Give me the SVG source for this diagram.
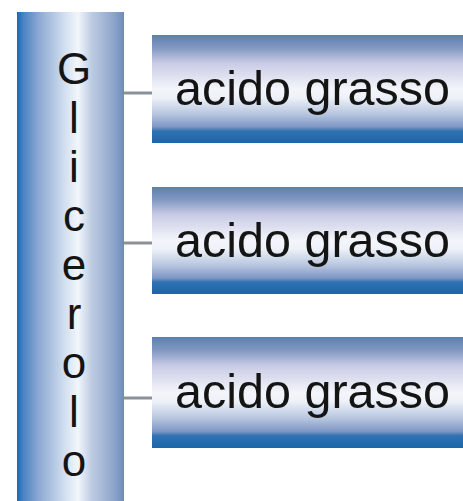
<svg xmlns="http://www.w3.org/2000/svg" width="463" height="501" viewBox="0 0 463 501">
  <defs>
    <!-- glycerol backbone: shaded horizontally like a cylinder -->
    <linearGradient id="colShade" x1="0" y1="0" x2="1" y2="0">
      <stop offset="0" stop-color="#1b69b3"/>
      <stop offset="0.06" stop-color="#4a83c2"/>
      <stop offset="0.2" stop-color="#8ba8d2"/>
      <stop offset="0.45" stop-color="#d3e0f0"/>
      <stop offset="0.57" stop-color="#f2f6fb"/>
      <stop offset="0.7" stop-color="#bccbe2"/>
      <stop offset="0.9" stop-color="#8ea6cb"/>
      <stop offset="1" stop-color="#6e8cba"/>
    </linearGradient>
    <!-- fatty-acid chains: shaded vertically -->
    <linearGradient id="barShade" x1="0" y1="0" x2="0" y2="1">
      <stop offset="0" stop-color="#5d7fae"/>
      <stop offset="0.12" stop-color="#8198c2"/>
      <stop offset="0.26" stop-color="#c9cbe6"/>
      <stop offset="0.5" stop-color="#f3f5fa"/>
      <stop offset="0.58" stop-color="#eef2f8"/>
      <stop offset="0.74" stop-color="#b4c3de"/>
      <stop offset="0.85" stop-color="#7e97c4"/>
      <stop offset="0.89" stop-color="#2f72b2"/>
      <stop offset="1" stop-color="#1a66ab"/>
    </linearGradient>
  </defs>
  <style>
    .col { fill: url(#colShade); }
    .bar { fill: url(#barShade); }
    .letter { font-family: "Liberation Sans", Arial, sans-serif; font-size: 44px; fill: #141414; text-anchor: middle; }
    .label { font-family: "Liberation Sans", Arial, sans-serif; font-size: 48.5px; fill: #141414; }
    .link { stroke: #8b9099; stroke-width: 3; fill: none; }
  </style>
  <rect width="463" height="501" fill="#ffffff"/>

  <g id="connectors">
    <line class="link" x1="123" y1="93" x2="153" y2="93"/>
    <line class="link" x1="123" y1="243" x2="153" y2="243"/>
    <line class="link" x1="123" y1="398" x2="153" y2="398"/>
  </g>

  <g id="glicerolo">
    <rect class="col" x="17" y="12" width="107" height="489"/>
    <text class="letter" x="74" y="84">G</text>
    <text class="letter" x="74" y="133">l</text>
    <text class="letter" x="74" y="182">i</text>
    <text class="letter" x="74" y="231">c</text>
    <text class="letter" x="74" y="280">e</text>
    <text class="letter" x="74" y="329">r</text>
    <text class="letter" x="74" y="378">o</text>
    <text class="letter" x="74" y="427">l</text>
    <text class="letter" x="74" y="476">o</text>
  </g>

  <g id="acido1">
    <rect class="bar" x="152" y="35" width="311" height="108"/>
    <text class="label" x="175" y="105">acido grasso</text>
  </g>
  <g id="acido2">
    <rect class="bar" x="152" y="187" width="311" height="107"/>
    <text class="label" x="175" y="257">acido grasso</text>
  </g>
  <g id="acido3">
    <rect class="bar" x="152" y="337" width="311" height="111"/>
    <text class="label" x="175" y="408">acido grasso</text>
  </g>
</svg>
